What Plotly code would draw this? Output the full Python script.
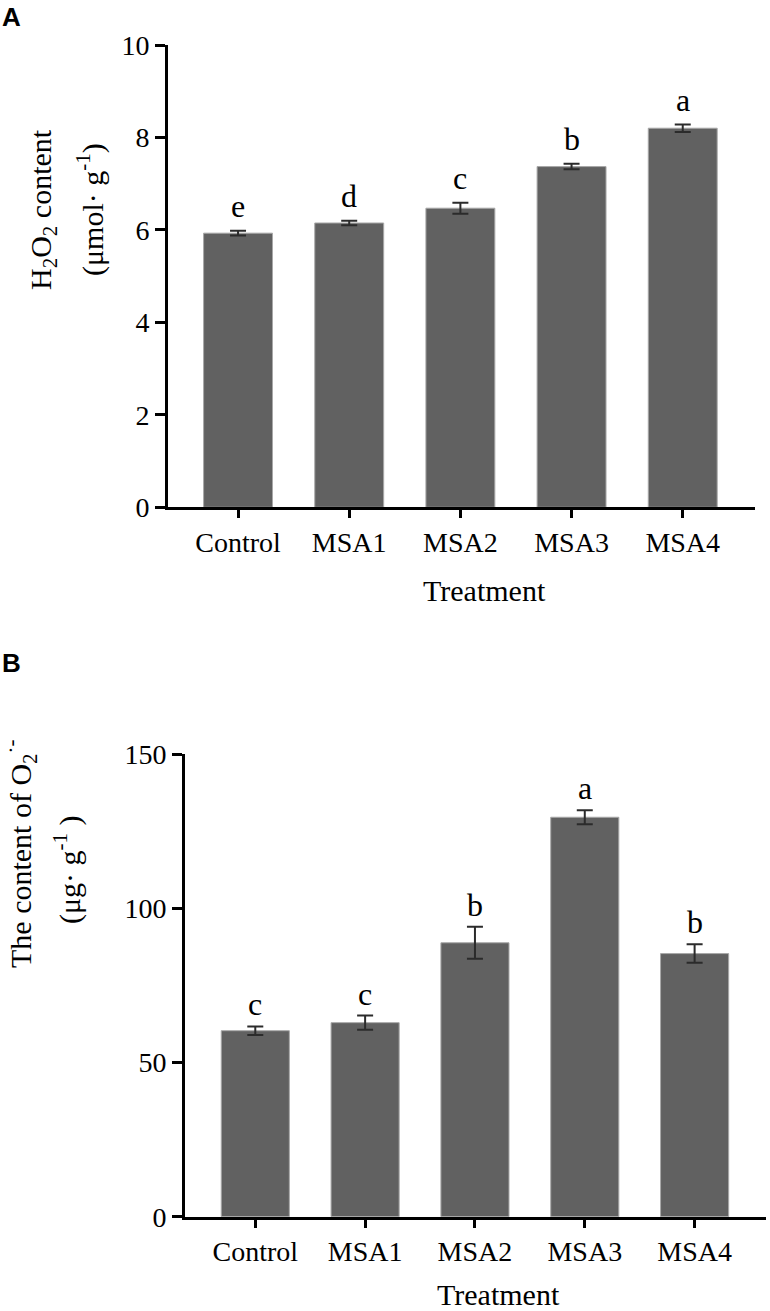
import plotly.graph_objects as go

treatments = ["Control", "MSA1", "MSA2", "MSA3", "MSA4"]

h2o2 = [5.93, 6.15, 6.47, 7.37, 8.20]
h2o2_err = [0.05, 0.05, 0.12, 0.06, 0.08]
h2o2_letters = ["e", "d", "c", "b", "a"]

o2 = [60.3, 62.9, 88.8, 129.5, 85.3]
o2_err = [1.4, 2.3, 5.2, 2.3, 3.0]
o2_letters = ["c", "c", "b", "a", "b"]

W, H = 770, 1311
SERIF = "Liberation Serif, Times New Roman, serif"
BAR = "#616161"


def px(x):
    return x / W


def py(y):
    return 1 - y / H


def bar(vals, errs, xa, ya):
    return go.Bar(
        x=treatments, y=vals, xaxis=xa, yaxis=ya, width=0.62,
        marker=dict(color=BAR, line=dict(color="#a8a8a8", width=1)),
        error_y=dict(type="data", array=errs, color="#2b2b2b",
                     thickness=2, width=8),
        showlegend=False,
    )


fig = go.Figure()
fig.add_trace(bar(h2o2, h2o2_err, "x", "y"))
fig.add_trace(bar(o2, o2_err, "x2", "y2"))

ax = dict(showline=True, linecolor="black", linewidth=3, ticks="outside",
          ticklen=10, tickwidth=3, tickcolor="black", showgrid=False,
          zeroline=False, automargin=False,
          tickfont=dict(family=SERIF, size=28, color="black"))

fig.update_layout(
    template="none",
    width=W, height=H, margin=dict(l=0, r=0, t=0, b=0, pad=0),
    plot_bgcolor="white", paper_bgcolor="white",
    font=dict(family=SERIF, color="black"),
    xaxis=dict(ax, domain=[px(168), px(755)], range=[-0.63, 4.65],
               anchor="y", ticklen=8),
    yaxis=dict(ax, domain=[py(507.3), py(45)], range=[0, 10],
               tickvals=[0, 2, 4, 6, 8, 10], anchor="x", ticklabelstandoff=0),
    xaxis2=dict(ax, domain=[px(185), px(766)], range=[-0.64, 4.65],
                anchor="y2", ticklen=8),
    yaxis2=dict(ax, domain=[py(1216.7), py(754)], range=[0, 150],
                tickvals=[0, 50, 100, 150], anchor="x2", ticklabelstandoff=0),
)


def note(x, y, text, font, angle=0, xanchor="center"):
    return dict(x=px(x), y=py(y), xref="paper", yref="paper", text=text,
                textangle=angle, xanchor=xanchor, yanchor="middle",
                showarrow=False, font=font)


ann = []
# significance letters
lfont = dict(family=SERIF, size=32, color="black")
for t, v, e, s in zip(treatments, h2o2, h2o2_err, h2o2_letters):
    ann.append(dict(x=t, y=v + e, xref="x", yref="y", text=s, showarrow=False,
                    xanchor="center", yanchor="bottom", yshift=5, font=lfont))
for t, v, e, s in zip(treatments, o2, o2_err, o2_letters):
    ann.append(dict(x=t, y=v + e, xref="x2", yref="y2", text=s, showarrow=False,
                    xanchor="center", yanchor="bottom", yshift=2, font=lfont))

tfont = dict(family=SERIF, size=30, color="black")
# axis titles
ann += [
    note(43, 210, "H<sub>2</sub>O<sub>2</sub> content", tfont, -90),
    note(90, 210, "(μmol· g<sup>-1</sup>)", tfont, -90),
    note(20, 854, "The content of O<sub>2</sub><sup>·-</sup>", tfont, -90),
    note(67, 870, "(μg· g<sup>-1</sup> )", tfont, -90),
    note(484, 590, "Treatment", tfont),
    note(498, 1294, "Treatment", tfont),
]
# panel labels
pfont = dict(family="Liberation Sans, Arial, sans-serif", size=26, color="black")
ann += [
    note(0, 17, "<b>A</b>", pfont, xanchor="left"),
    note(0, 663, "<b>B</b>", pfont, xanchor="left"),
]
fig.update_layout(annotations=ann)

# page body margin would push the fixed-size figure off by 8px
fig.write_html("out.html", config={"displayModeBar": False},
               post_script="document.body.style.margin='0';"
                           "document.body.style.overflow='hidden';")
